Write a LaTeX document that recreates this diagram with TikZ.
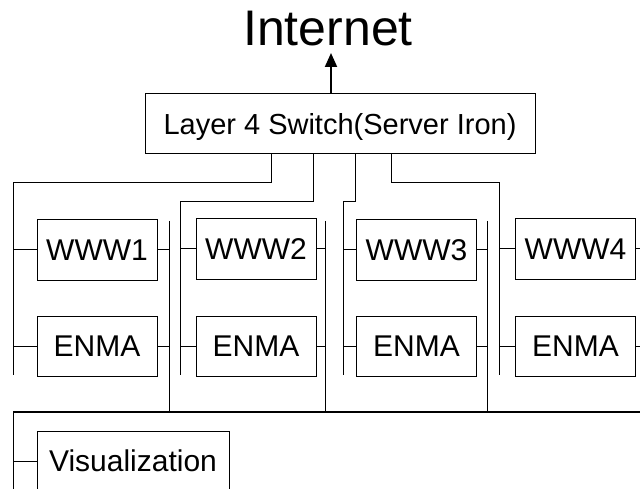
\documentclass[tikz,border=0pt]{standalone}
\usepackage{fontspec}
\setmainfont{Liberation Sans}
\usetikzlibrary{arrows.meta}
\begin{document}
\begin{tikzpicture}[x=1pt,y=-1pt,line width=1pt,
  box/.style={draw,line width=1pt,minimum width=120pt,minimum height=60pt,inner sep=0pt,
    font=\fontsize{30}{30}\selectfont,text height=21.5pt,text depth=0pt},
  bus/.style={line width=1pt},
  mainbus/.style={line width=1.6pt}]
\clip (0,0) rectangle (640,489);
\fill[white] (0,0) rectangle (640,489);
% title and switch
\node[inner sep=0pt,font=\fontsize{50}{50}\selectfont,text height=35.8pt,text depth=0pt] (inet) at (328,27.5) {Internet};
\node[draw,line width=1pt,minimum width=390pt,minimum height=60pt,inner sep=0pt,
  font=\fontsize{29}{29}\selectfont,text height=20.8pt,text depth=0pt] (sw) at (340,124) {Layer 4 Switch(Server Iron)};
\coordinate (tip) at (331,53);
\draw[line width=2pt,-{Triangle[length=14pt,width=12pt]}] (sw.north -| tip) -- (tip);
% servers
\node[box] (w1) at (97,250) {WWW1};
\node[box] (e1) at (97,346) {ENMA};
\node[box] (w2) at (256,249) {WWW2};
\node[box] (e2) at (256,346) {ENMA};
\node[box] (w3) at (416.5,250) {WWW3};
\node[box] (e3) at (416.5,346) {ENMA};
\node[box] (w4) at (575.5,249) {WWW4};
\node[box] (e4) at (575.5,346) {ENMA};
\node[box,minimum width=192pt] (vis) at (133,461) {Visualization};
% columns
\coordinate (t1) at (271,0);
\coordinate (t2) at (313,0);
\coordinate (t3) at (355,0);
\coordinate (t4) at (391,0);
\coordinate (g1) at (13,183);
\coordinate (g2) at (180,202);
\coordinate (g3) at (343,202);
\coordinate (g4) at (499,183);
\coordinate (g1b) at (13,375);
\coordinate (g2b) at (180,375);
\coordinate (g3b) at (343,375);
\coordinate (g4b) at (499,375);
\coordinate (r1) at (169,221);
\coordinate (r2) at (325,221);
\coordinate (r3) at (487,221);
\coordinate (r4) at (660,221);
\coordinate (bl) at (13,412);
\coordinate (br) at (650,412);
\coordinate (vb) at (13,500);
% trunks from switch
\draw[bus] (sw.south -| t1) |- (g1) -- (g1b);
\draw[bus] (sw.south -| t2) |- (g2) -- (g2b);
\draw[bus] (sw.south -| t3) |- (g3) -- (g3b);
\draw[bus] (sw.south -| t4) |- (g4) -- (g4b);
% left ticks
\foreach \g/\a/\b in {g1/w1/e1,g2/w2/e2,g3/w3/e3,g4/w4/e4}{
  \draw[bus] (\g |- \a.west) -- (\a.west);
  \draw[bus] (\g |- \b.west) -- (\b.west);
}
% right ticks
\foreach \r/\a/\b in {r1/w1/e1,r2/w2/e2,r3/w3/e3,r4/w4/e4}{
  \draw[bus] (\a.east) -- (\a.east -| \r);
  \draw[bus] (\b.east) -- (\b.east -| \r);
}
% right buses down to the lower bus
\draw[bus] (r1) -- (r1 |- bl);
\draw[bus] (r2) -- (r2 |- bl);
\draw[bus] (r3) -- (r3 |- bl);
\draw[mainbus] (bl) -- (br);
\draw[bus] (bl) -- (vb);
\draw[bus] (bl |- vis.west) -- (vis.west);
\end{tikzpicture}
\end{document}
